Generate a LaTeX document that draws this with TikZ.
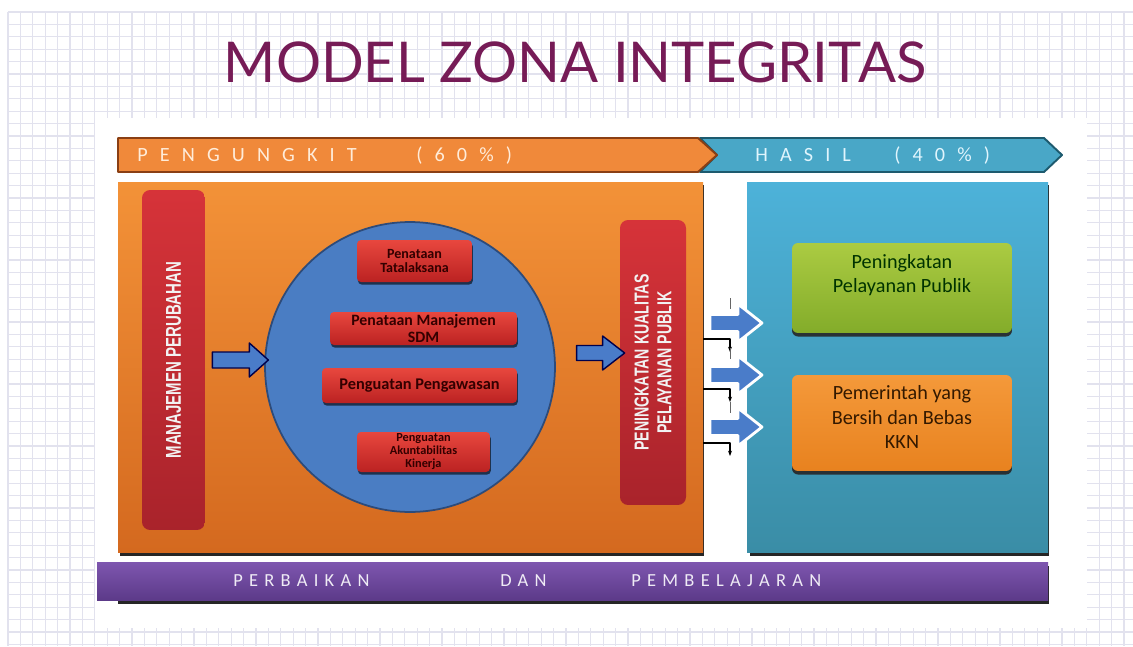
\documentclass[tikz,border=0pt]{standalone}
\usepackage{fontspec}
\setmainfont{Carlito}
\newfontfamily\judulfont{Lato}
\newfontfamily\pitafont[LetterSpace=60]{Carlito}
\newfontfamily\ungufont[LetterSpace=34]{Carlito}
\newfontfamily\tegakfont[FakeStretch=0.7]{Liberation Sans}
\usetikzlibrary{calc,shadows,arrows.meta}

\definecolor{judulwarna}{HTML}{761B56}
\definecolor{garis}{HTML}{E2E2EE}
\definecolor{oranye}{HTML}{F0893A}
\definecolor{oranyetepi}{HTML}{8A3F14}
\definecolor{biru}{HTML}{49A7C7}
\definecolor{birutepi}{HTML}{1D5A6E}
\definecolor{panelA}{HTML}{F39238}
\definecolor{panelB}{HTML}{D4691F}
\definecolor{langitA}{HTML}{4DB2D9}
\definecolor{langitB}{HTML}{3A8DA6}
\definecolor{unguA}{HTML}{7E56AF}
\definecolor{unguB}{HTML}{5C3A89}
\definecolor{merahA}{HTML}{D63339}
\definecolor{merahB}{HTML}{A9232B}
\definecolor{bola}{HTML}{4A7DC3}
\definecolor{bolatepi}{HTML}{2D4B7A}
\definecolor{kotakA}{HTML}{E8473E}
\definecolor{kotakB}{HTML}{BB2222}
\definecolor{panahwarna}{HTML}{4A7CC9}
\definecolor{hijauA}{HTML}{ABCB42}
\definecolor{hijauB}{HTML}{83AC2A}
\definecolor{jinggaA}{HTML}{F4993A}
\definecolor{jinggaB}{HTML}{E8821F}

\tikzset{
  gridline/.style={garis, line width=0.6pt},
  judulteks/.style={text=judulwarna, font=\judulfont\fontsize{32}{35}\selectfont, inner sep=0},
  pitaoranye/.style={fill=oranye, draw=oranyetepi, line width=1.1pt},
  pitabiru/.style={fill=biru, draw=birutepi, line width=1.1pt},
  pitateks/.style={text=#1, font=\pitafont\fontsize{11.5}{13}\selectfont, inner sep=0, anchor=base west},
  ungutekst/.style={text=white!88!unguA, font=\ungufont\fontsize{10.5}{12}\selectfont, inner sep=0, anchor=base west},
  merahbar/.style={rotate=90, rounded corners=0.16cm, top color=merahA, bottom color=merahB,
    text=white!95!black, align=center, inner sep=0, font=\tegakfont\bfseries},
  kotakmerah/.style={rounded corners=0.08cm, top color=kotakA, bottom color=kotakB, inner sep=0,
    text=black!80!red, align=center, font=\bfseries,
    drop shadow={shadow xshift=0.5pt, shadow yshift=-1.5pt, opacity=.6, fill=black}},
  hasilbox/.style={rounded corners=0.12cm, minimum width=4.4cm, inner sep=0,
    drop shadow={shadow xshift=0pt, shadow yshift=-2pt, opacity=.9, fill=black!85}},
  hasilteks/.style={align=center, inner sep=0, font=\fontsize{11.5}{14}\selectfont},
  panahbiru/.style={fill=panahwarna, draw=black!70!blue, line width=0.8pt},
  panahputih/.style={fill=panahwarna, draw=white, line width=1.6pt},
  pics/blokpanah/.style n args={4}{code={%
    \draw[pic actions] (0,-#2) -- ({#1-#4},-#2) -- ({#1-#4},-#3) -- (#1,0)
      -- ({#1-#4},#3) -- ({#1-#4},#2) -- (0,#2) -- cycle;}}
}

\begin{document}
\begin{tikzpicture}[x=0.02cm, y=-0.02cm, line join=round, >=stealth]
\useasboundingbox (0,0) rectangle (1133,646);
% kertas berpetak
\foreach \i in {0,...,90} \draw[gridline] ({8+12.4*\i},12) -- ({8+12.4*\i},646);
\foreach \j in {0,...,51} \draw[gridline] (8,{12+12.4*\j}) -- (1133,{12+12.4*\j});
\fill[white] (95,118) rectangle (1087,628);

\node[judulteks, anchor=base] (judul) at (575,82) {MODEL ZONA INTEGRITAS};

% pita atas
\draw[pitabiru] (700,138) -- (1044,138) -- (1062,155) -- (1044,172) -- (700,172) -- (717,155) -- cycle;
\draw[pitaoranye] (118,138) -- (698,138) -- (717,155) -- (698,172) -- (118,172) -- cycle;
\node[pitateks=white!85!orange] (pengungkit) at (137,161) {PENGUNGKIT};
\node[pitateks=white!85!orange] (enampuluh) at (416,161) {(60\%)};
\node[pitateks=white!88!cyan] (hasil) at (755,161) {HASIL};
\node[pitateks=white!88!cyan] (empatpuluh) at (894,161) {(40\%)};

% panel
\fill[black!85] (120,185) rectangle (704,556);
\shade[top color=panelA, bottom color=panelB] (118,182) rectangle (703,552);
\fill[black!85] (750,185) rectangle (1049,556);
\shade[top color=langitA, bottom color=langitB] (747,182) rectangle (1048,552);
\fill[black!85] (118,566) rectangle (1049,604);
\shade[top color=unguA, bottom color=unguB] (97,562) rectangle (1048,600);
\node[ungutekst] (perbaikan) at (233,586) {PERBAIKAN};
\node[ungutekst] (dan) at (500,586) {DAN};
\node[ungutekst] (pembelajaran) at (631,586) {PEMBELAJARAN};

% isi panel kiri
\node[merahbar, minimum width=6.8cm, minimum height=1.26cm, font=\tegakfont\bfseries\fontsize{12.2}{14}\selectfont]
  (manajemen) at (173.5,360) {MANAJEMEN PERUBAHAN};
\node[circle, fill=bola, draw=bolatepi, line width=1pt, minimum size=5.8cm, inner sep=0] (lingkaran) at (410,367) {};
\node[kotakmerah, minimum width=2.3cm, minimum height=0.84cm, font=\bfseries\fontsize{8}{8}\selectfont]
  (tatalaksana) at (414.5,261) {Penataan\\Tatalaksana};
\node[kotakmerah, minimum width=3.74cm, minimum height=0.66cm, font=\bfseries\fontsize{9}{10}\selectfont]
  (sdm) at (423.5,328.5) {Penataan Manajemen\\SDM};
\node[kotakmerah, minimum width=3.9cm, minimum height=0.7cm, font=\bfseries\fontsize{9.3}{10}\selectfont]
  (pengawasan) at (419.5,385.5) {Penguatan Pengawasan};
\node[kotakmerah, minimum width=2.66cm, minimum height=0.8cm, font=\bfseries\fontsize{7}{7.4}\selectfont]
  (akuntabilitas) at (423.5,452) {Penguatan\\Akuntabilitas\\Kinerja};
\node[merahbar, minimum width=5.7cm, minimum height=1.32cm, font=\tegakfont\bfseries\fontsize{11.5}{13}\selectfont]
  (peningkatan) at (653,362.5) {PENINGKATAN KUALITAS\\PELAYANAN PUBLIK};

\pic[panahbiru] at ($(manajemen.south)+(7,0)$) {blokpanah={56}{8}{17}{19}};
\pic[panahbiru] at ($(peningkatan.north)+(-43,-9.5)$) {blokpanah={48}{7.5}{17}{22}};

% panah ke hasil
\foreach \y in {339,389,443} {
  \draw[black, line width=0.6pt, -{Stealth[length=3pt]}] (703,\y) -- (730,\y) -- (730,\y+13);
  \draw[black!60, line width=0.5pt] (730,\y-41) -- (730,\y-30);
}
\foreach \y in {323,375,427} \pic[panahputih] at (710,\y) {blokpanah={52}{8.5}{19}{24}};

% isi panel kanan
\node[hasilbox, minimum height=1.8cm, top color=hijauA, bottom color=hijauB] (pelayanan) at (902,288) {};
\node[hasilteks, text=black!80!green] (pelayanantext) at ($(pelayanan)+(0,-13)$) {Peningkatan\\Pelayanan Publik};
\node[hasilbox, minimum height=1.92cm, top color=jinggaA, bottom color=jinggaB] (kkn) at (902,423) {};
\node[hasilteks, text=black!80!orange] (kkntext) at ($(kkn)+(0,-6)$) {Pemerintah yang\\Bersih dan Bebas\\KKN};
\end{tikzpicture}
\end{document}
